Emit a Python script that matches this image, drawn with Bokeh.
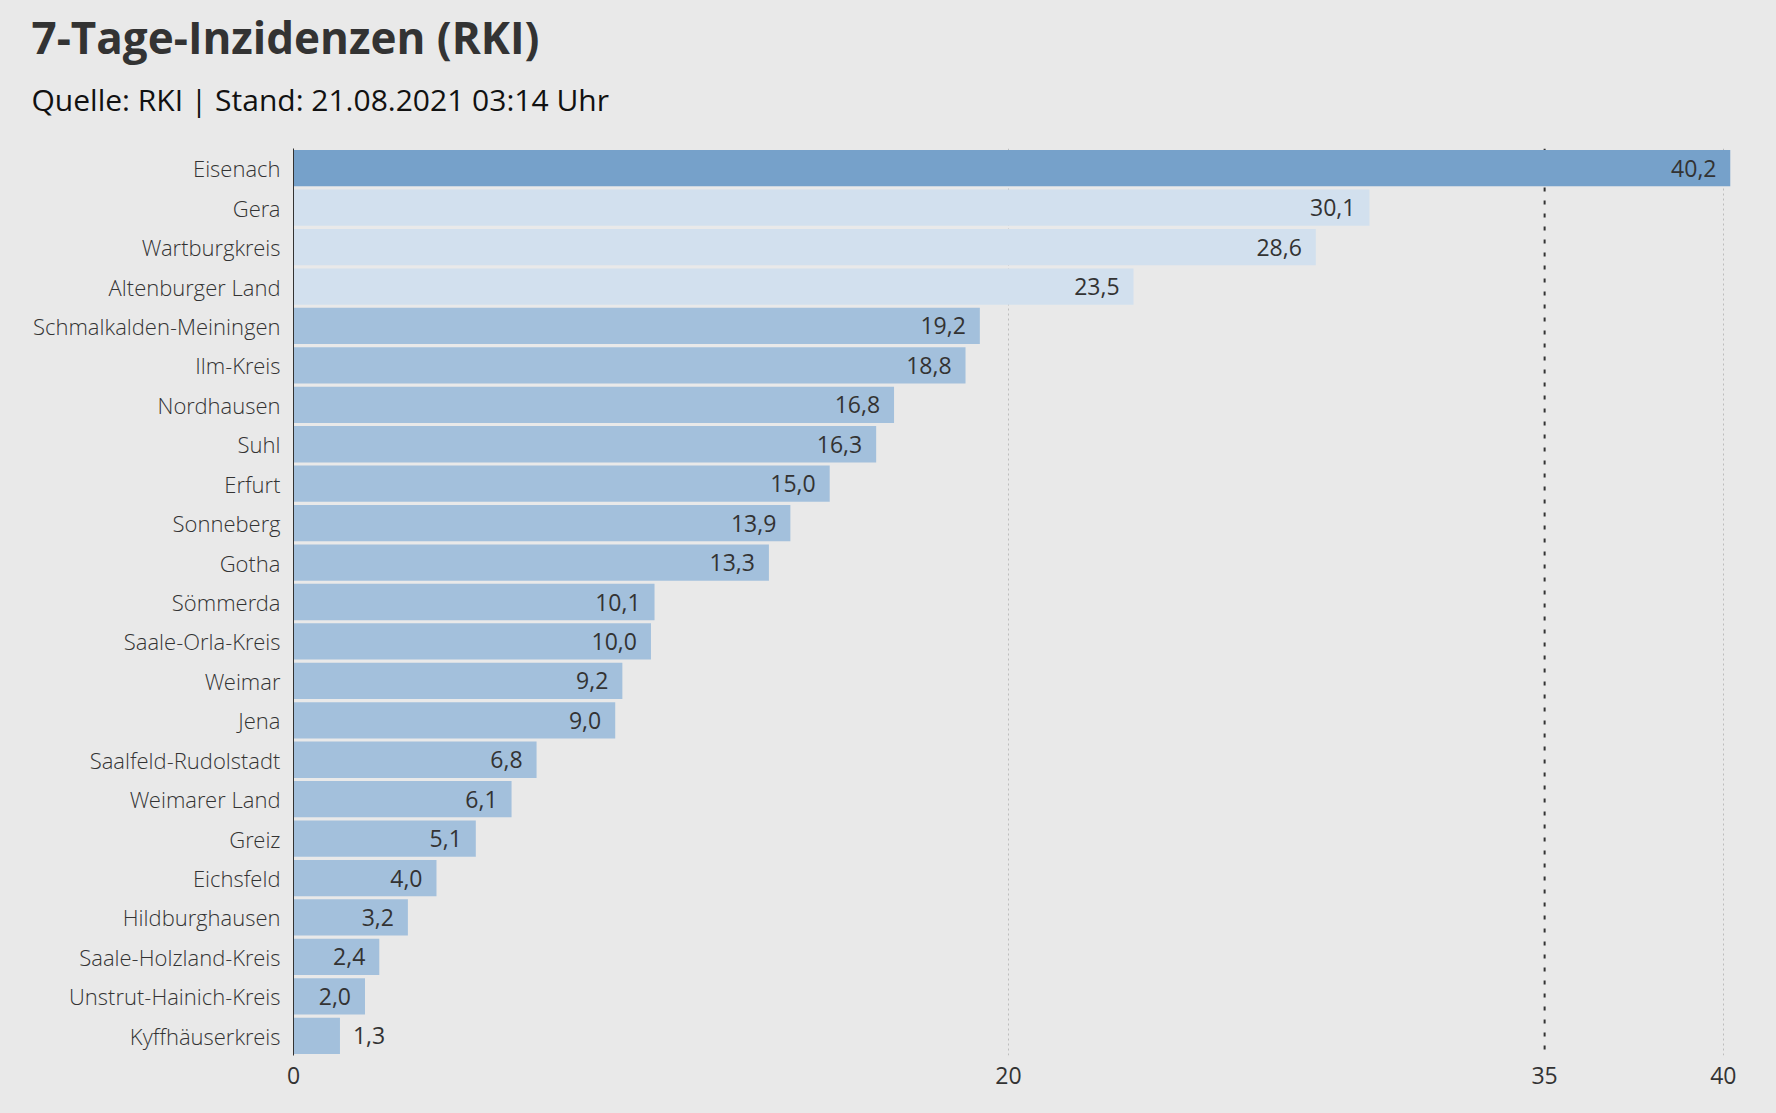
from bokeh.plotting import figure
from bokeh.models import ColumnDataSource, FactorRange, Range1d, FixedTicker, Span, Title
from bokeh.embed import file_html
from bokeh.resources import INLINE
from bokeh.core.properties import value

title_text = "7-Tage-Inzidenzen (RKI)"
subtitle_text = "Quelle: RKI | Stand: 21.08.2021 03:14 Uhr"

districts = [
    "Eisenach", "Gera", "Wartburgkreis", "Altenburger Land",
    "Schmalkalden-Meiningen", "Ilm-Kreis", "Nordhausen", "Suhl", "Erfurt",
    "Sonneberg", "Gotha", "Sömmerda", "Saale-Orla-Kreis", "Weimar", "Jena",
    "Saalfeld-Rudolstadt", "Weimarer Land", "Greiz", "Eichsfeld",
    "Hildburghausen", "Saale-Holzland-Kreis", "Unstrut-Hainich-Kreis",
    "Kyffhäuserkreis",
]
incidence = [
    40.2, 30.1, 28.6, 23.5, 19.2, 18.8, 16.8, 16.3, 15.0, 13.9, 13.3, 10.1,
    10.0, 9.2, 9.0, 6.8, 6.1, 5.1, 4.0, 3.2, 2.4, 2.0, 1.3,
]
x_ticks = [0, 20, 35, 40]
grid_ticks = [20, 40]
threshold_line = 35

BG = "#e9e9e9"
TXT = "#333333"
LIGHT_FONT = "Open Sans Light"
REG_FONT = "Open Sans"


def bar_color(v):
    if v > 35:
        return "#76a1ca"
    if v >= 20:
        return "#d2e0ee"
    return "#a3c0dc"


src = ColumnDataSource(dict(
    district=districts,
    inc=incidence,
    color=[bar_color(v) for v in incidence],
    label=[f"{v:.1f}".replace(".", ",") for v in incidence],
    align=["right" if v >= 2 else "left" for v in incidence],
    xoff=[-14 if v >= 2 else 13 for v in incidence],
))

p = figure(
    width=1776, height=1110,
    y_range=FactorRange(factors=districts[::-1]),
    x_range=Range1d(0, 40.2),
    output_backend="svg", toolbar_location=None,
    min_border_left=293, min_border_right=46,
    min_border_top=148, min_border_bottom=55,
)
p.title = None
p.background_fill_color = BG
p.border_fill_color = BG
p.outline_line_color = None

p.hbar(y="district", right="inc", left=0, height=0.92,
       fill_color="color", line_color=None, source=src)

p.text(x="inc", y="district", text="label", x_offset="xoff",
       text_align="align", text_baseline="middle",
       text_font=value(REG_FONT), text_font_size="23px",
       text_color=TXT, source=src)

p.add_layout(Span(location=threshold_line, dimension="height",
                  line_color=TXT, line_width=2, line_dash="4 9",
                  level="underlay"))

# axes
p.xaxis.ticker = FixedTicker(ticks=x_ticks)
p.xaxis.axis_line_color = None
p.xaxis.major_tick_line_color = None
p.xaxis.minor_tick_line_color = None
p.xaxis.major_label_standoff = 5
p.xaxis.major_label_text_font = REG_FONT
p.xaxis.major_label_text_font_size = "23px"
p.xaxis.major_label_text_color = TXT

p.yaxis.axis_line_color = TXT
p.yaxis.axis_line_width = 1
p.yaxis.major_tick_line_color = None
p.yaxis.minor_tick_line_color = None
p.yaxis.major_label_standoff = 7
p.yaxis.major_label_text_font = LIGHT_FONT
p.yaxis.major_label_text_font_size = "22px"
p.yaxis.major_label_text_color = TXT

p.ygrid.grid_line_color = None
p.xgrid.ticker = FixedTicker(ticks=grid_ticks)
p.xgrid.grid_line_color = "#bdbdbd"
p.xgrid.grid_line_dash = "2 3"
p.xgrid.grid_line_width = 1

p.add_layout(Title(text=subtitle_text, align="left", offset=-262,
                   text_font=REG_FONT, text_font_style="normal",
                   text_font_size="30px", text_color="#111111",
                   standoff=58), "above")
p.add_layout(Title(text=title_text, align="left", offset=-262,
                   text_font=REG_FONT, text_font_style="bold",
                   text_font_size="44px", text_color=TXT,
                   standoff=-38), "above")

html = file_html(p, INLINE)
html = html.replace("</head>",
                    "<style>html, body { background-color: #e9e9e9; }</style></head>", 1)
open("out.html", "w").write(html)
